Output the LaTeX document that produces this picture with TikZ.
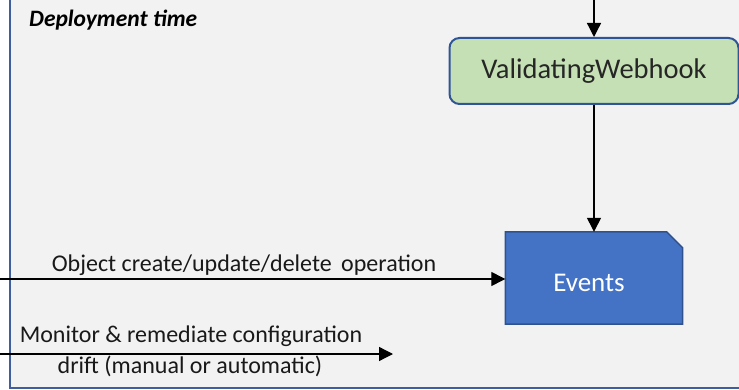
\documentclass[tikz,border=0pt]{standalone}
\usepackage{fontspec}
\setmainfont{Carlito}
\usetikzlibrary{arrows.meta}
\definecolor{panelfill}{HTML}{F2F2F2}
\definecolor{panelline}{HTML}{3E5E9E}
\definecolor{whfill}{HTML}{C5E0B4}
\definecolor{whline}{HTML}{2F5597}
\definecolor{evfill}{HTML}{4472C4}
\definecolor{evline}{HTML}{2F528F}
\tikzset{
  x=1pt, y=-1pt,
  arr/.style={draw=black, line width=1.3pt, -{Triangle[length=14pt,width=14pt]}},
  webhook/.style={rectangle, rounded corners=10pt, draw=whline, line width=2pt,
    fill=whfill, minimum width=289pt, minimum height=66pt, inner sep=0pt,
    font=\fontsize{28.5}{34}\selectfont, text=black!85},
  eventsframe/.style={rectangle, minimum width=177pt, minimum height=92pt, inner sep=0pt},
  eventsfill/.style={draw=evline, line width=1.5pt, fill=evfill, line join=miter},
  evtext/.style={font=\fontsize{27}{32}\selectfont, text=white, inner sep=0pt, anchor=base},
  lbl/.style={font=\fontsize{24}{30}\selectfont, text=black!90, inner sep=0pt, align=center},
  title/.style={font=\fontsize{23.5}{28}\selectfont\bfseries\itshape, inner sep=0pt, anchor=base west}
}
\begin{document}
\begin{tikzpicture}
\useasboundingbox (0,0) rectangle (739,390);
\clip (0,0) rectangle (739,390);
\fill[white] (0,0) rectangle (739,390);
% deployment-time panel
\draw[fill=panelfill, draw=panelline, line width=2pt] (10,-20) rectangle (760,388);
\node[title] (dt) at (29,27) {Deployment time};
% components
\node[webhook] (wh) at (594,71) {ValidatingWebhook};
\node[eventsframe] (ev) at (594,278) {};
% events box with its top-right corner cut off
\draw[eventsfill] (ev.south west) -- (ev.north west) -- ([xshift=-16pt]ev.north east)
  -- ([yshift=-16pt]ev.north east) -- (ev.south east) -- cycle;
\node[evtext] (evlbl) at (589,291) {Events};
% flows
\coordinate (in) at (594,-5);
\draw[arr] (in) -- (wh.north);
\draw[arr] (wh.south) -- (ev.north);
\coordinate (opsrc) at (-5,279);
\draw[arr] (opsrc) -- (opsrc -| ev.west);
\node[lbl, anchor=base] (oplbl) at (244,272) {Object create/update/delete\, operation};
\coordinate (drsrc) at (-5,354);
\coordinate (drend) at (393,354);
\draw[arr] (drsrc) -- (drend);
\node[lbl, anchor=base] (drlbl1) at (191,342) {Monitor \& remediate configuration};
\node[lbl, anchor=base] (drlbl2) at (190,373) {drift (manual or automatic)};
\end{tikzpicture}
\end{document}
